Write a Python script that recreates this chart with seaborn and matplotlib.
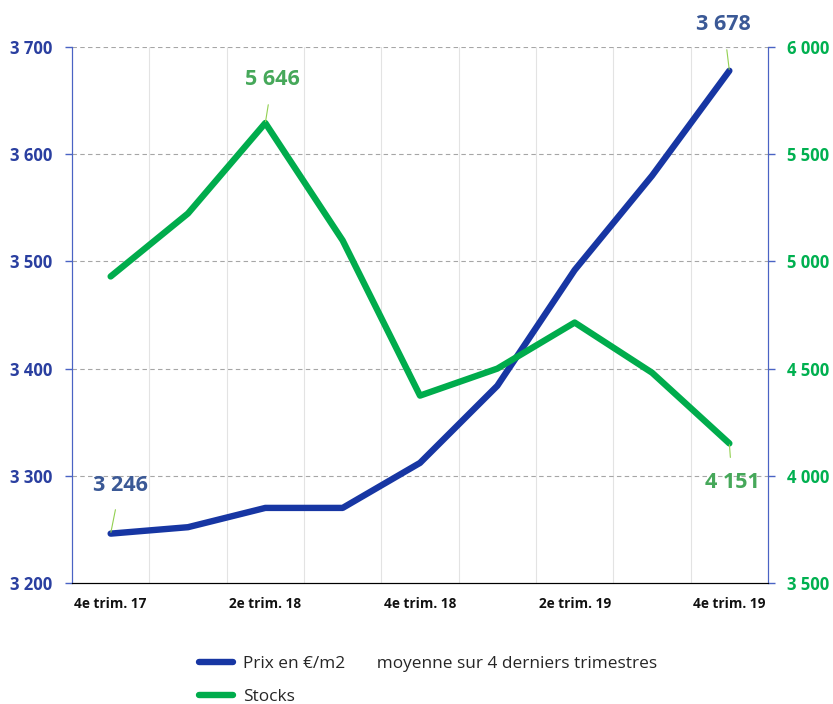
import matplotlib
matplotlib.use("Agg")
import matplotlib.pyplot as plt
from matplotlib.lines import Line2D
import seaborn as sns
import pandas as pd

# Data
quarters = ["4e trim. 17", "1er trim. 18", "2e trim. 18", "3e trim. 18",
            "4e trim. 18", "1er trim. 19", "2e trim. 19", "3e trim. 19",
            "4e trim. 19"]
prix = [3246, 3252, 3270, 3270, 3312, 3384, 3492, 3580, 3678]
stocks = [4930, 5224, 5646, 5098, 4374, 4500, 4715, 4481, 4151]

shown_labels = ["4e trim. 17", "2e trim. 18", "4e trim. 18", "2e trim. 19", "4e trim. 19"]

blue = "#1736a3"
green = "#00ac4c"
blue_txt = "#2a3fa0"
green_txt = "#00b050"
lbl_blue = "#3b5996"
lbl_green = "#46a85a"

df = pd.DataFrame({"pos": range(len(quarters)), "quarter": quarters,
                   "prix": prix, "stocks": stocks})

sns.set_style("white")
plt.rcParams["font.family"] = ["Open Sans", "DejaVu Sans"]

fig = plt.figure(figsize=(8.33, 7.04), dpi=100)
ax = fig.add_axes([0.0864, 0.172, 0.8356, 0.761])
ax2 = ax.twinx()

sns.lineplot(data=df, x="pos", y="prix", ax=ax, color=blue, lw=4.6,
             solid_capstyle="round", solid_joinstyle="round", zorder=3)
sns.lineplot(data=df, x="pos", y="stocks", ax=ax2, color=green, lw=4.6,
             solid_capstyle="round", solid_joinstyle="round", zorder=3)

ax.set_xlim(-0.5, len(quarters) - 0.5)
ax.set_ylim(3200, 3700)
ax2.set_ylim(3500, 6000)
ax.set_yticks(range(3200, 3701, 100))
ax2.set_yticks(range(3500, 6001, 500))

fmt = lambda v: f"{v:,.0f}".replace(",", " ")
ax.set_yticklabels([fmt(v) for v in ax.get_yticks()], fontsize=12,
                   fontweight="bold", color=blue_txt)
ax2.set_yticklabels([fmt(v) for v in ax2.get_yticks()], fontsize=12,
                    fontweight="bold", color=green_txt)

# category boundary ticks + vertical grid
ax.set_xticks([i + 0.5 for i in range(len(quarters) - 1)])
ax.set_xticklabels([])
ax.tick_params(axis="x", direction="in", length=5, color="black", width=1)
for i, q in enumerate(quarters):
    if q in shown_labels:
        ax.text(i, -0.04, q, transform=ax.get_xaxis_transform(), ha="center",
                va="center", fontsize=9.8, fontweight="bold", color="#111111")
for xb in ax.get_xticks():
    ax.axvline(xb, color="#e3e3e3", lw=0.8, zorder=0)
for yv in ax.get_yticks()[1:]:
    ax.axhline(yv, color="#a6a6a6", lw=0.8, ls=(0, (4, 3)), zorder=0)

ax.tick_params(axis="y", direction="out", length=5, color="#4a63c4", width=1, pad=9)
ax2.tick_params(axis="y", direction="out", length=5, color="#4a63c4", width=1, pad=9)
ax.set_xlabel("")
ax.set_ylabel("")
ax2.set_ylabel("")

for a in (ax, ax2):
    a.spines["top"].set_visible(False)
    a.spines["left"].set_color("#4a63c4")
    a.spines["right"].set_color("#4a63c4")
    a.spines["bottom"].set_color("black")
    a.set_facecolor("none")

# data labels with leader lines
def label(a, i, v, txt_off, color):
    a.annotate(fmt(v), xy=(i, v), xytext=txt_off, textcoords="offset points",
               ha="center", va="center", fontsize=15.5, fontweight="bold", color=color,
               arrowprops=dict(arrowstyle="-", color="#92d050", lw=0.8,
                               shrinkA=8, shrinkB=1))

label(ax, 0, prix[0], (7, 35), lbl_blue)
label(ax, 8, prix[-1], (-4, 33), lbl_blue)
label(ax2, 2, stocks[2], (5, 31), lbl_green)
label(ax2, 8, stocks[-1], (2, -28), lbl_green)

# legend below
handles = [Line2D([0], [0], color=blue, lw=4.6, solid_capstyle="round"),
           Line2D([0], [0], color=green, lw=4.6, solid_capstyle="round")]
fig.legend(handles, ["Prix en €/m2       moyenne sur 4 derniers trimestres", "Stocks"],
           loc="lower left", bbox_to_anchor=(0.22, -0.024), frameon=False,
           fontsize=12.4, handlelength=2.0, labelspacing=1.0, handletextpad=0.55)

fig.savefig("out.png", dpi=100)
